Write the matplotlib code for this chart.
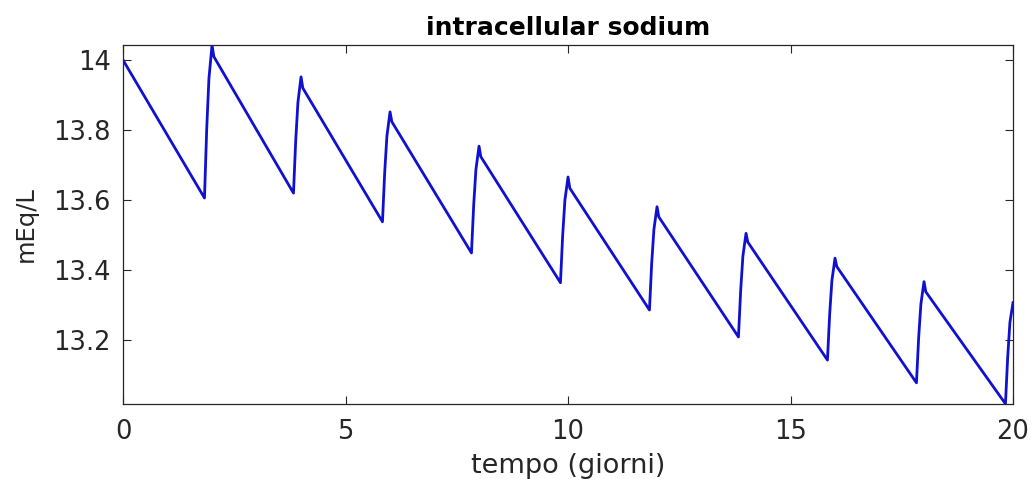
import matplotlib
matplotlib.use("Agg")
import matplotlib.pyplot as plt

# vertices of the trace (time in days, value in mEq/L)
tempo = [0.0,
         1.83, 1.88, 1.93, 2.00, 2.04,
         3.83, 3.88, 3.93, 4.00, 4.04,
         5.83, 5.88, 5.93, 6.00, 6.04,
         7.83, 7.88, 7.93, 8.00, 8.04,
         9.83, 9.88, 9.93, 10.00, 10.04,
         11.83, 11.88, 11.93, 12.00, 12.04,
         13.83, 13.88, 13.93, 14.00, 14.04,
         15.83, 15.88, 15.93, 16.00, 16.04,
         17.83, 17.88, 17.93, 18.00, 18.04,
         19.83, 19.88, 19.93, 20.00]
sodio = [14.000,
         13.606, 13.803, 13.947, 14.043, 14.010,
         13.620, 13.769, 13.879, 13.952, 13.920,
         13.538, 13.679, 13.783, 13.852, 13.824,
         13.449, 13.586, 13.687, 13.754, 13.724,
         13.364, 13.500, 13.600, 13.666, 13.634,
         13.286, 13.419, 13.516, 13.581, 13.552,
         13.209, 13.342, 13.440, 13.505, 13.480,
         13.143, 13.274, 13.370, 13.434, 13.410,
         13.078, 13.208, 13.303, 13.367, 13.338,
         13.018, 13.150, 13.250, 13.307]

x_ticks = [0, 5, 10, 15, 20]
y_ticks = [13.2, 13.4, 13.6, 13.8, 14.0]
y_labels = ["13.2", "13.4", "13.6", "13.8", "14"]

plt.rcParams['font.family'] = ['DejaVu Sans']

fig = plt.figure(figsize=(10.34, 4.79), dpi=100)
ax = fig.add_axes([0.119, 0.157, 0.8607, 0.749])

ax.plot(tempo, sodio, color='#1010d0', lw=2.0)

ax.set_xlim(0, 20)
ax.set_ylim(min(sodio), max(sodio))
ax.set_xticks(x_ticks)
ax.set_yticks(y_ticks)
ax.set_yticklabels(y_labels)

ax.tick_params(direction='in', length=6, width=0.8, labelsize=18.5,
               colors='#262626', top=True, right=True)
ax.tick_params(axis='x', pad=11)
ax.tick_params(axis='y', pad=9)
for s in ax.spines.values():
    s.set_color('#262626')
    s.set_linewidth(0.9)

ax.set_title('intracellular sodium', fontsize=18, fontweight='bold', pad=7.5)
ax.set_xlabel('tempo (giorni)', fontsize=19.5, color='#262626', labelpad=6)
ax.set_ylabel('mEq/L', fontsize=17.5, color='#262626', labelpad=11)

fig.savefig('out.png', dpi=100)
